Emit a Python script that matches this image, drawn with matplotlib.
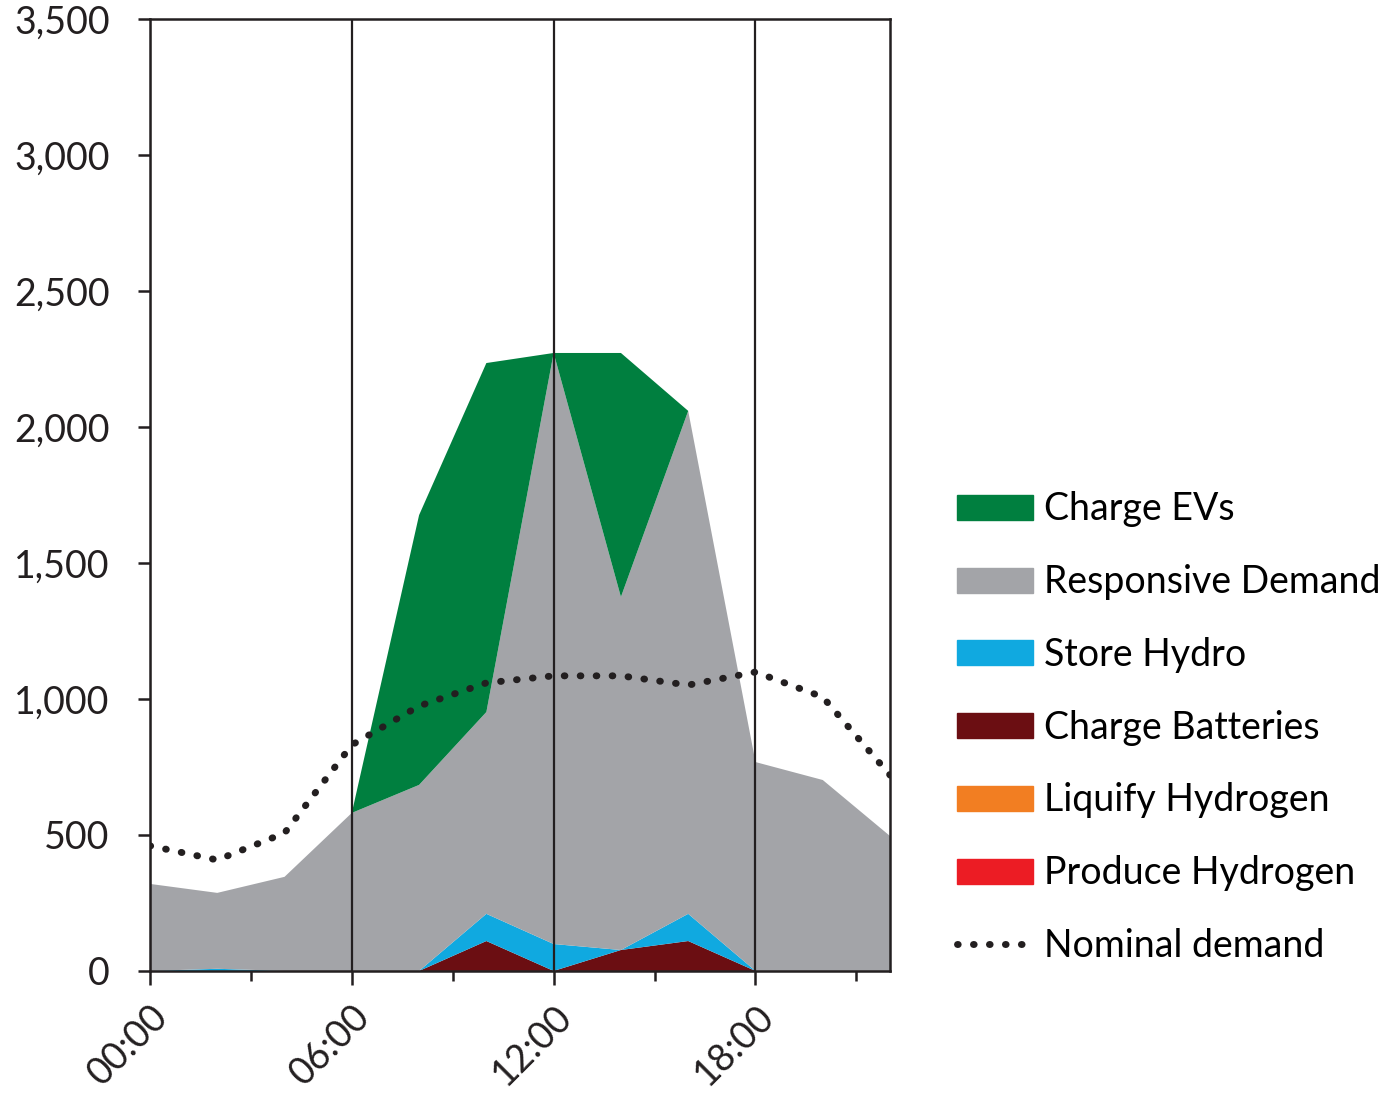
import matplotlib
matplotlib.use("Agg")
import matplotlib.pyplot as plt
from matplotlib.patches import Patch
from matplotlib.lines import Line2D
from matplotlib.ticker import FuncFormatter, MultipleLocator

plt.rcParams["font.family"] = ["Lato", "DejaVu Sans"]

# hours of the day, every 2 h
hours = [0, 2, 4, 6, 8, 10, 12, 14, 16, 18, 20, 22]

# stacked series (MW), bottom to top
produce_h2 = [0, 0, 0, 0, 0, 0, 0, 0, 0, 0, 0, 0]
liquify_h2 = [0, 0, 0, 0, 0, 0, 0, 0, 0, 0, 0, 0]
charge_batt = [0, 0, 0, 0, 0, 110, 0, 77, 110, 0, 0, 0]
store_hydro = [0, 8, 0, 0, 0, 100, 99, 0, 100, 0, 0, 0]
responsive = [320, 279, 346, 581, 684, 742, 2173, 1298, 1849, 768, 702, 496]
charge_evs = [0, 0, 0, 0, 992, 1283, 0, 897, 0, 0, 0, 0]

nominal = [460, 408, 507, 831, 974, 1059, 1085, 1085, 1051, 1099, 1007, 720]

x_labels = ["00:00", "06:00", "12:00", "18:00"]

names = ["Produce Hydrogen", "Liquify Hydrogen", "Charge Batteries",
         "Store Hydro", "Responsive Demand", "Charge EVs"]
colors = ["#EC1C24", "#F27E22", "#6B0E12", "#10A9E0", "#A3A4A8", "#007F3F"]

dots = (0, (0.1, 2.2))

fig = plt.figure(figsize=(13.99, 10.96), dpi=100)
ax = fig.add_axes([0.1072, 0.1141, 0.529, 0.8686])

ax.stackplot(hours, produce_h2, liquify_h2, charge_batt, store_hydro,
             responsive, charge_evs, colors=colors, linewidth=0, zorder=2)
ax.plot(hours, nominal, color="#231F20", lw=5, linestyle=dots,
        dash_capstyle="round", zorder=4)

ax.set_xlim(0, 22)
ax.set_ylim(0, 3500)
ax.xaxis.set_minor_locator(MultipleLocator(3))
ax.set_xticks([0, 6, 12, 18])
ax.set_xticklabels(x_labels, rotation=45, ha="right", rotation_mode="anchor")
ax.yaxis.set_major_locator(MultipleLocator(500))
ax.yaxis.set_major_formatter(FuncFormatter(lambda v, p: f"{int(v):,}"))

ax.grid(axis="x", which="major", color="#231F20", lw=1.6, zorder=3)
ax.set_axisbelow(False)
for s in ax.spines.values():
    s.set_linewidth(1.8)
    s.set_color("#231F20")
    s.set_zorder(5)

ax.tick_params(axis="both", which="major", labelsize=27, width=1.8,
               color="#231F20", labelcolor="#231F20")
ax.tick_params(axis="x", which="major", length=10, pad=10)
ax.tick_params(axis="x", which="minor", length=7, width=1.8, color="#231F20")
ax.tick_params(axis="y", which="major", length=9, pad=20)

handles = [Patch(color=colors[i], label=names[i]) for i in range(5, -1, -1)]
handles.append(Line2D([0], [0], color="#231F20", lw=5, linestyle=dots,
                      dash_capstyle="round", label="Nominal demand"))
fig.legend(handles=handles, loc="center left", bbox_to_anchor=(0.673, 0.336),
           frameon=False, fontsize=27, handlelength=2.05, handleheight=0.65,
           labelspacing=0.98, handletextpad=0.27, borderaxespad=0)

fig.savefig("out.png", dpi=100)
